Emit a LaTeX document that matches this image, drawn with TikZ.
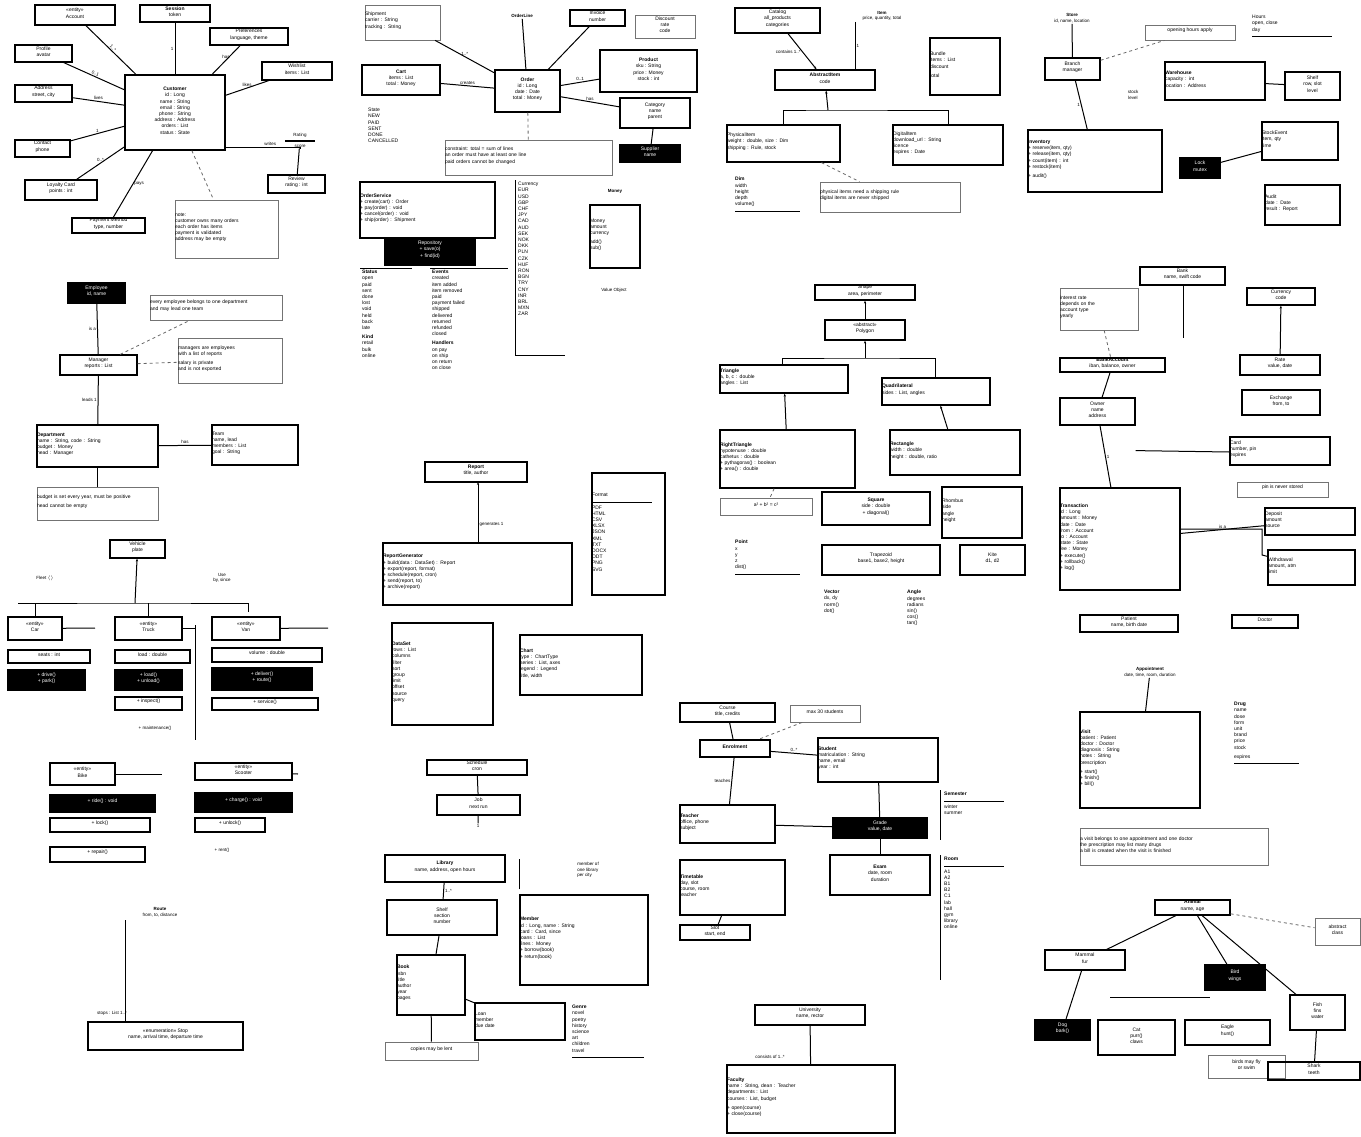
\documentclass[tikz,border=0pt]{standalone}
\usepackage{fontspec}
\setmainfont{Liberation Sans}
\usetikzlibrary{positioning,fit,calc,arrows.meta}

\begin{document}
\begin{tikzpicture}[
    x=1pt, y=-1pt,
    cls/.style={rectangle, draw, line width=1.2pt, inner sep=0pt, font=\fontsize{5}{6.2}\selectfont, align=center},
    note/.style={cls, draw=black!55, line width=0.8pt},
    blk/.style={cls, fill=black, text=white},
    lst/.style={rectangle, inner sep=0pt, anchor=north west, font=\fontsize{5}{6.2}\selectfont, align=left},
    lbl/.style={font=\fontsize{4.5}{5.5}\selectfont, inner sep=1pt},
    con/.style={line width=1pt},
    dep/.style={line width=0.8pt, dashed, black!60},
    arr/.style={con, -{Stealth[length=3pt]}}
    ]
    \useasboundingbox (0,0) rectangle (1361,1136);

    % top left
    \node[cls, fit={(125,75) (225,150)}] (a0) {\textbf{Customer}\\id : Long\\name : String\\email : String\\phone : String\\address : Address\\orders : List\\status : State};
    \node[cls, fit={(35,5) (115,25)}] (a1) {«entity»\\Account};
    \node[cls, fit={(140,5) (210,22)}] (a2) {\textbf{Session}\\token};
    \node[cls, fit={(210,28) (288,45)}] (a3) {Preferences\\language, theme};
    \node[cls, fit={(15,45) (72,62)}] (a4) {Profile\\avatar};
    \node[cls, fit={(15,85) (72,102)}] (a5) {Address\\street, city};
    \node[cls, fit={(15,140) (70,157)}] (a6) {Contact\\phone};
    \node[cls, fit={(25,180) (97,200)}] (a7) {Loyalty Card\\points : int};
    \node[cls, fit={(72,218) (145,233)}] (a8) {Payment Method\\type, number};
    \node[note, fit={(175,200) (278,258)}, align=left] (a9) {note:\\customer owns many orders\\each order has items\\payment is validated\\address may be empty};
    \node[cls, fit={(262,62) (332,80)}] (a10) {Wishlist\\items : List};
    \node[cls, fit={(268,175) (325,193)}] (a11) {Review\\rating : int};
    \node[lbl, align=center] (a12) at (300,140) {Rating\\\rule{30pt}{1.2pt}\\score};
    \draw[con] (a0) -- node[lbl, above, sloped] {1..*} (a1);
    \draw[con] (a0) -- node[lbl, left] {1} (a2);
    \draw[con] (a0) -- node[lbl, above] {has} (a3);
    \draw[con] (a0) -- node[lbl, above, sloped] {0..1} (a4);
    \draw[con] (a0) -- node[lbl, above] {lives} (a5);
    \draw[con] (a0) -- node[lbl, above] {1} (a6);
    \draw[con] (a0) -- node[lbl, above] {0..*} (a7);
    \draw[con] (a0) -- node[lbl, right] {pays} (a8);
    \draw[dep] (a0) -- (a9);
    \draw[con] (a0) -- node[lbl, above] {likes} (a10);
    \draw[con] (a0.east) ++(0,35) -| node[lbl, pos=0.3, above] {writes} (a12);
    \draw[con] (a12) -- (a11);

    % top centre
    \node[cls, fit={(495,70) (560,112)}] (b0) {\textbf{Order}\\id : Long\\date : Date\\total : Money};
    \node[note, fit={(365,5) (440,40)}, align=left] (b1) {Shipment\\carrier : String\\tracking : String};
    \node[lbl] (b2) at (522,16) {\textbf{OrderLine}};
    \node[cls, fit={(570,10) (625,26)}] (b3) {Invoice\\number};
    \node[note, fit={(635,15) (695,38)}] (b4) {Discount\\rate\\code};
    \node[cls, fit={(600,50) (697,92)}] (b5) {\textbf{Product}\\sku : String\\price : Money\\stock : int};
    \node[cls, fit={(620,98) (690,128)}] (b6) {Category\\name\\parent};
    \node[blk, fit={(620,145) (680,162)}] (b7) {Supplier\\name};
    \node[cls, fit={(362,65) (440,95)}] (b8) {\textbf{Cart}\\items : List\\total : Money};
    \node[lst] (b9) at (368,108) {State\\NEW\\PAID\\SENT\\DONE\\CANCELLED};
    \node[note, fit={(445,140) (612,175)}, align=left] (b10) {constraint: total = sum of lines\\an order must have at least one line\\paid orders cannot be changed};
    \node[cls, fit={(360,182) (495,238)}, align=left] (b11) {\textbf{OrderService}\\+ create(cart) : Order\\+ pay(order) : void\\+ cancel(order) : void\\+ ship(order) : Shipment};
    \node[blk, fit={(385,238) (475,265)}] (b12) {Repository\\+ save(o)\\+ find(id)};
    \node[lst] (b13) at (518,182) {Currency\\EUR\\USD\\GBP\\CHF\\JPY\\CAD\\AUD\\SEK\\NOK\\DKK\\PLN\\CZK\\HUF\\RON\\BGN\\TRY\\CNY\\INR\\BRL\\MXN\\ZAR};
    \draw[con] (515,180) |- (565,355);
    \node[lbl] (b15) at (615,191) {\textbf{Money}};
    \node[cls, fit={(590,205) (640,268)}, align=left] (b14) {Money\\amount\\currency\\[3pt]add()\\sub()};
    \node[lbl] (b16) at (614,290) {Value Object};
    \node[lst] (b17) at (362,270) {\textbf{Status}\\open\\paid\\sent\\done\\lost\\void\\held\\back\\late\\[3pt]\textbf{Kind}\\retail\\bulk\\online};
    \node[lst] (b18) at (432,270) {\textbf{Events}\\created\\item added\\item removed\\paid\\payment failed\\shipped\\delivered\\returned\\refunded\\closed\\[3pt]\textbf{Handlers}\\on pay\\on ship\\on return\\on close};
    \draw[con] (360,268) -- (412,268);
    \draw[con] (430,268) -- (508,268);
    \draw[con] (b2) -- (b0);
    \draw[con] (b1) -- node[lbl, above] {1..*} (b0);
    \draw[con] (b8) -- node[lbl, above] {creates} (b0);
    \draw[con] (b0) -- node[lbl, above] {0..1} (b5);
    \draw[con] (b0) -- node[lbl, above] {has} (b6);
    \draw[dep] (b0) -- (b10);
    \draw[con] (b0) -- (b3);
    \draw[con] (b6) -- (b7);
    \draw[con] (b11) -- (b12);

    % top right centre
    \node[cls, fit={(735,8) (820,33)}] (c0) {Catalog\\all\_products\\categories};
    \node[lbl, align=center] (c1) at (882,16) {\textbf{Item}\\price, quantity, total};
    \node[cls, fit={(775,70) (875,90)}] (c2) {\textbf{AbstractItem}\\code};
    \node[cls, fit={(930,38) (1000,95)}, align=left] (c3) {Bundle\\items : List\\discount\\[3pt]total};
    \node[cls, fit={(727,125) (840,162)}, align=left] (c4) {PhysicalItem\\weight : double, size : Dim\\shipping : Rule, stock};
    \node[cls, fit={(893,125) (1003,165)}, align=left] (c5) {DigitalItem\\download\_url : String\\licence\\expires : Date};
    \node[lst] (c6) at (735,177) {\textbf{Dim}\\width\\height\\depth\\volume()\\\rule{65pt}{0.8pt}};
    \node[note, fit={(820,182) (960,212)}, align=left] (c7) {physical items need a shipping rule\\digital items are never shipped};
    \draw[arr] (c0) -- node[lbl, left] {contains 1..*} (c2);
    \draw[con] (c1.south -| 855,0) -- node[lbl, right] {1} (855,70);
    \coordinate (ct) at (828,110);
    \draw[arr] (ct) -- (c2);
    \draw[con] (c4.north) |- (ct) -| (c5.north);
    \draw[dep] (c4) -- (c7);

    % top right
    \node[lbl, align=center] (d0) at (1072,18) {\textbf{Store}\\id, name, location};
    \node[cls, fit={(1045,58) (1100,80)}] (d1) {Branch\\manager};
    \node[note, fit={(1145,25) (1235,40)}] (d2) {opening hours apply};
    \node[lst] (d3) at (1252,15) {Hours\\open, close\\day\\\rule{80pt}{0.8pt}};
    \node[cls, fit={(1165,62) (1265,100)}, align=left] (d4) {\textbf{Warehouse}\\capacity : int\\location : Address};
    \node[cls, fit={(1285,72) (1340,100)}] (d5) {Shelf\\row, slot\\level};
    \node[lbl, align=center] (d6) at (1133,95) {stock\\level};
    \node[cls, fit={(1028,130) (1162,192)}, align=left] (d7) {\textbf{Inventory}\\+ reserve(item, qty)\\+ release(item, qty)\\+ count(item) : int\\+ restock(item)\\[3pt]+ audit()};
    \node[blk, fit={(1180,158) (1220,178)}] (d8) {Lock\\mutex};
    \node[cls, fit={(1262,122) (1338,160)}, align=left] (d9) {StockEvent\\item, qty\\time};
    \node[cls, fit={(1265,185) (1340,225)}, align=left] (d10) {Audit\\date : Date\\result : Report};
    \draw[con] (d0) -- (d1);
    \draw[dep] (d1) -- (d2);
    \draw[con] (d1) -- node[lbl, left] {1} (d7);
    \draw[con] (d4) -- (d5);
    \draw[con] (d8) -- (d9);

    % middle left
    \node[blk, fit={(68,283) (125,303)}] (e0) {Employee\\id, name};
    \node[note, fit={(150,295) (282,320)}, align=left] (e1) {every employee belongs to one department\\and may lead one team};
    \node[note, fit={(178,338) (282,383)}, align=left] (e2) {managers are employees\\with a list of reports\\[3pt]salary is private\\and is not exported};
    \node[cls, fit={(60,355) (137,375)}] (e3) {Manager\\reports : List};
    \node[cls, fit={(37,425) (158,467)}, align=left] (e4) {\textbf{Department}\\name : String, code : String\\budget : Money\\head : Manager};
    \node[cls, fit={(212,425) (298,465)}, align=left] (e5) {Team\\name, lead\\members : List\\goal : String};
    \node[note, fit={(37,487) (158,520)}, align=left] (e6) {budget is set every year, must be positive\\[3pt]head cannot be empty};
    \draw[con] (e0) -- node[lbl, left] {is a} (e3);
    \draw[dep] (e3) -- (e1);
    \draw[dep] (e3) -- (e2);
    \draw[con] (e3) -- node[lbl, left] {leads 1} (e4);
    \draw[con] (e4) -- node[lbl, above] {has} (e5);
    \draw[con] (e4) -- (e6);

    % left
    \node[cls, fit={(110,540) (165,558)}] (f0) {Vehicle\\plate};
    \node[lbl] (f0a) at (45,578) {Fleet $\langle\rangle$};
    \node[lbl, align=center] (f0b) at (222,578) {Use\\by, since};
    \coordinate (ft) at (135,603);
    \draw[arr] (ft) -- (f0);
    \draw[con] (18,603) -- (ft) -- (248,603) -- (248,612);
    \node[cls, fit={(8,617) (62,640)}] (f1) {«entity»\\Car};
    \node[cls, fit={(115,617) (182,640)}] (f2) {«entity»\\Truck};
    \node[cls, fit={(212,617) (280,640)}] (f3) {«entity»\\Van};
    \node[cls, fit={(8,650) (90,663)}] (f4) {seats : int};
    \node[cls, fit={(115,650) (190,663)}] (f5) {load : double};
    \node[cls, fit={(212,648) (322,662)}] (f6) {volume : double};
    \node[blk, fit={(8,670) (85,690)}] (f7) {+ drive()\\+ park()};
    \node[blk, fit={(115,670) (182,690)}] (f8) {+ load()\\+ unload()};
    \node[blk, fit={(212,668) (312,690)}] (f9) {+ deliver()\\+ route()};
    \node[cls, fit={(115,697) (182,710)}] (f10) {+ inspect()};
    \node[cls, fit={(212,698) (318,710)}] (f11) {+ service()};
    \node[lbl] (f12) at (155,728) {+ maintenance()};
    \draw[con] (f2.north) -- (f2.north |- ft);
    \draw[con] (f1.north) -- (f1.north |- ft);
    \draw[con] (f1) -- (95,628);
    \draw[con] (f2.east) -- (f2.east -| 195,0);
    \draw[con] (195,625) -- (195,740);
    \draw[con] (f3) -- (328,628);
    \node[cls, fit={(50,763) (115,785)}] (f13) {«entity»\\Bike};
    \node[cls, fit={(195,763) (292,780)}] (f14) {«entity»\\Scooter};
    \node[blk, fit={(50,795) (155,812)}] (f15) {+ ride() : void};
    \node[blk, fit={(195,793) (292,812)}] (f16) {+ charge() : void};
    \node[cls, fit={(50,818) (150,832)}] (f17) {+ lock()};
    \node[cls, fit={(195,818) (265,832)}] (f18) {+ unlock()};
    \node[cls, fit={(50,847) (145,862)}] (f19) {+ repair()};
    \node[lbl] (f20) at (222,850) {+ rent()};
    \draw[con] (f13) -- (162,774);
    \draw[con] (f14) -- (298,774);

    % bottom left
    \node[lbl, align=center] (g0) at (160,912) {\textbf{Route}\\from, to, distance};
    \node[cls, fit={(88,1022) (243,1050)}] (g1) {«enumeration» Stop\\name, arrival time, departure time};
    \node[lbl] (g2) at (112,1013) {stops : List 1..*};
    \draw[con] (125,920) -- (125,1022);

    % middle centre
    \node[cls, fit={(425,462) (527,482)}] (h0) {\textbf{Report}\\title, author};
    \node[cls, fit={(383,543) (572,605)}, align=left] (h1) {\textbf{ReportGenerator}\\+ build(data : DataSet) : Report\\+ export(report, format)\\+ schedule(report, cron)\\+ send(report, to)\\+ archive(report)};
    \node[cls, fit={(592,473) (665,595)}, align=left] (h2) {Format\\\rule{60pt}{0.8pt}\\PDF\\HTML\\CSV\\XLSX\\JSON\\XML\\TXT\\DOCX\\ODT\\PNG\\SVG};
    \node[cls, fit={(392,623) (493,725)}, align=left] (h3) {\textbf{DataSet}\\rows : List\\columns\\filter\\sort\\group\\limit\\offset\\source\\query};
    \node[cls, fit={(520,635) (642,695)}, align=left] (h4) {\textbf{Chart}\\type : ChartType\\series : List, axes\\legend : Legend\\title, width};
    \draw[arr] (h1.north -| 478,0) -- node[lbl, right, pos=0.3] {generates 1} (478,482);
    \node[cls, fit={(427,760) (527,775)}] (h5) {Schedule\\cron};
    \node[cls, fit={(437,795) (520,815)}] (h6) {Job\\next run};
    \node[lbl] (h7) at (478,826) {1};
    \draw[con] (h5) -- (h6);
    \draw[con] (h6) -- (h7);

    % bottom middle
    \node[cls, fit={(385,855) (505,882)}] (i0) {\textbf{Library}\\name, address, open hours};
    \node[cls, fit={(387,900) (497,935)}] (i1) {Shelf\\section\\number};
    \node[cls, fit={(397,955) (465,1015)}, align=left] (i2) {\textbf{Book}\\isbn\\title\\author\\year\\pages};
    \node[note, fit={(385,1042) (478,1060)}] (i3) {copies may be lent};
    \node[cls, fit={(475,1003) (565,1040)}, align=left] (i4) {Loan\\member\\due date};
    \node[lst] (i5) at (572,1005) {\textbf{Genre}\\novel\\poetry\\history\\science\\art\\children\\travel\\\rule{72pt}{1.2pt}};
    \node[cls, fit={(520,895) (648,985)}, align=left] (i6) {\textbf{Member}\\id : Long, name : String\\card : Card, since\\loans : List\\fines : Money\\+ borrow(book)\\+ return(book)};
    \node[lbl, align=left] (i7) at (588,870) {member of\\one library\\per city};
    \draw[con] (i0) -- node[lbl, right] {1..*} (i1);
    \draw[con] (i1) -- (i2);
    \draw[con] (i2) -- (i3);
    \draw[con] (i2) -- (i4);
    \draw[con] (i6.north west) ++(0,-5) -- ++(0,-30);

    % centre right
    \node[cls, fit={(815,285) (915,300)}] (j0) {Shape\\area, perimeter};
    \node[cls, fit={(825,320) (905,340)}] (j1) {«abstract»\\Polygon};
    \node[cls, fit={(720,365) (848,393)}, align=left] (j2) {\textbf{Triangle}\\a, b, c : double\\angles : List};
    \node[cls, fit={(882,378) (990,405)}, align=left] (j3) {\textbf{Quadrilateral}\\sides : List, angles};
    \node[cls, fit={(720,430) (855,488)}, align=left] (j4) {\textbf{RightTriangle}\\hypotenuse : double\\cathetus : double\\+ pythagoras() : boolean\\+ area() : double};
    \node[cls, fit={(890,430) (1020,475)}, align=left] (j5) {\textbf{Rectangle}\\width : double\\height : double, ratio};
    \node[note, fit={(720,498) (812,515)}] (j6) {a² + b² = c²};
    \node[cls, fit={(822,492) (930,525)}] (j7) {\textbf{Square}\\side : double\\+ diagonal()};
    \node[cls, fit={(942,487) (1022,538)}, align=left] (j8) {Rhombus\\side\\angle\\height};
    \node[cls, fit={(822,545) (940,575)}] (j9) {Trapezoid\\base1, base2, height};
    \node[cls, fit={(960,545) (1025,575)}] (j10) {Kite\\d1, d2};
    \node[lst] (j11) at (735,540) {\textbf{Point}\\x\\y\\z\\dist()\\\rule{65pt}{1.2pt}};
    \node[lst] (j12) at (824,590) {\textbf{Vector}\\dx, dy\\norm()\\dot()};
    \node[lst] (j13) at (907,590) {\textbf{Angle}\\degrees\\radians\\sin()\\cos()\\tan()};
    \draw[arr] (j1) -- (j0);
    \coordinate (jt) at (865,358);
    \draw[arr] (jt) -- (j1);
    \draw[con] (j2.north -| 782,0) |- (jt) -| (j3.north -| 935,0);
    \draw[arr] (j4) -- (j2);
    \draw[arr] (j5) -- (j3);
    \draw[dep] (j4) -- (j6);

    % right middle
    \node[cls, fit={(1140,267) (1225,285)}] (k0) {Bank\\name, swift code};
    \node[note, fit={(1060,288) (1138,330)}, align=left] (k1) {interest rate\\depends on the\\account type\\yearly};
    \node[cls, fit={(1247,288) (1315,305)}] (k2) {Currency\\code};
    \node[cls, fit={(1240,355) (1320,375)}] (k3) {Rate\\value, date};
    \node[cls, fit={(1060,358) (1165,372)}] (k4) {\textbf{BankAccount}\\iban, balance, owner};
    \node[cls, fit={(1060,398) (1135,425)}] (k5) {Owner\\name\\address};
    \node[cls, fit={(1242,390) (1320,415)}] (k6) {Exchange\\from, to};
    \node[cls, fit={(1230,437) (1330,465)}, align=left] (k7) {Card\\number, pin\\expires};
    \node[note, fit={(1237,482) (1328,497)}] (k8) {pin is never stored};
    \node[cls, fit={(1060,488) (1180,590)}, align=left] (k9) {\textbf{Transaction}\\id : Long\\amount : Money\\date : Date\\from : Account\\to : Account\\state : State\\fee : Money\\+ execute()\\+ rollback()\\+ log()};
    \node[cls, fit={(1265,508) (1355,535)}, align=left] (k10) {Deposit\\amount\\source};
    \node[cls, fit={(1268,550) (1355,585)}, align=left] (k11) {Withdrawal\\amount, atm\\limit};
    \draw[con] (k0.south -| 1183,0) -- (1183,338);
    \draw[dep] (k1) -- (k4);
    \draw[arr] (k3) -- (k2);
    \draw[con] (k4) -- (k5);
    \draw[con] (k5) -- node[lbl, right] {1} (k9);
    \draw[con] (k5.south east) ++(0,25) -- (k7.west |- 0,452);
    \draw[con] (k9) -- node[lbl, above] {is a} (k10);
    \draw[con] (k9.east) ++(0,-10) -| (1262,555) -- (k11);

    % right lower
    \node[cls, fit={(1080,615) (1178,632)}] (l0) {Patient\\name, birth date};
    \node[cls, fit={(1232,615) (1298,628)}] (l1) {Doctor};
    \node[lbl, align=center] (l2) at (1150,672) {\textbf{Appointment}\\date, time, room, duration};
    \node[cls, fit={(1080,712) (1200,808)}, align=left] (l3) {\textbf{Visit}\\patient : Patient\\doctor : Doctor\\diagnosis : String\\notes : String\\prescription\\[3pt]+ start()\\+ finish()\\+ bill()};
    \node[lst] (l4) at (1234,702) {\textbf{Drug}\\name\\dose\\form\\unit\\brand\\price\\stock\\[3pt]expires\\\rule{65pt}{1.2pt}};
    \node[note, fit={(1080,828) (1268,865)}, align=left] (l5) {a visit belongs to one appointment and one doctor\\the prescription may list many drugs\\a bill is created when the visit is finished};
    \draw[con] (l2) -- (l3);

    % centre lower
    \node[cls, fit={(680,703) (775,722)}] (m0) {Course\\title, credits};
    \node[note, fit={(790,705) (860,722)}] (m1) {max 30 students};
    \node[cls, fit={(700,740) (770,757)}] (m2) {\textbf{Enrolment}};
    \node[cls, fit={(818,738) (938,782)}, align=left] (m3) {\textbf{Student}\\matriculation : String\\name, email\\year : int};
    \node[cls, fit={(680,805) (775,843)}, align=left] (m4) {\textbf{Teacher}\\office, phone\\subject};
    \node[blk, fit={(833,818) (927,838)}] (m5) {Grade\\value, date};
    \node[lst] (m6) at (944,792) {\textbf{Semester}\\\rule{60pt}{1.2pt}\\winter\\summer};
    \node[cls, fit={(830,855) (930,895)}] (m7) {\textbf{Exam}\\date, room\\duration};
    \node[lst] (m8) at (944,857) {\textbf{Room}\\\rule{60pt}{1.2pt}\\A1\\A2\\B1\\B2\\C1\\lab\\hall\\gym\\library\\online};
    \draw[con] (940,790) -- (940,840);
    \draw[con] (940,855) -- (940,980);
    \node[cls, fit={(680,860) (785,915)}, align=left] (m9) {\textbf{Timetable}\\day, slot\\course, room\\teacher};
    \node[cls, fit={(680,925) (750,940)}] (m10) {Slot\\start, end};
    \node[cls, fit={(755,1005) (865,1025)}] (m11) {University\\name, rector};
    \node[cls, fit={(727,1065) (895,1133)}, align=left] (m12) {\textbf{Faculty}\\name : String, dean : Teacher\\departments : List\\courses : List, budget\\[3pt]+ open(course)\\+ close(course)};
    \node[lbl] (m13) at (770,1057) {consists of 1..*};
    \draw[con] (m0) -- (m2);
    \draw[dep] (m1) -- (m2);
    \draw[con] (m2) -- node[lbl, above] {0..*} (m3);
    \draw[con] (m2) -- node[lbl, left] {teaches} (m4);
    \draw[con] (m4) -- (m5);
    \draw[con] (m3) -- (m5);
    \draw[con] (m5) -- (m7);
    \draw[con] (m9) -- (m10);
    \draw[con] (m11) -- (m12);

    % bottom right
    \node[cls, fit={(1155,900) (1230,915)}] (n0) {\textbf{Animal}\\name, age};
    \node[cls, fit={(1045,950) (1125,970)}] (n1) {Mammal\\fur};
    \node[blk, fit={(1205,965) (1265,990)}] (n2) {Bird\\wings};
    \node[note, fit={(1315,918) (1360,945)}] (n3) {abstract\\class};
    \node[cls, fit={(1290,995) (1345,1030)}] (n4) {Fish\\fins\\water};
    \node[blk, fit={(1035,1020) (1090,1040)}] (n5) {Dog\\bark()};
    \node[cls, fit={(1098,1020) (1175,1055)}] (n6) {Cat\\purr()\\claws};
    \node[cls, fit={(1185,1020) (1270,1045)}] (n7) {Eagle\\hunt()};
    \node[note, fit={(1208,1055) (1285,1078)}] (n8) {birds may fly\\or swim};
    \node[cls, fit={(1268,1062) (1360,1080)}] (n9) {Shark\\teeth};
    \draw[con] (n0) -- (n1);
    \draw[con] (n0) -- (n2);
    \draw[con] (n0) -- (n4);
    \draw[dep] (n0) -- (n3);
    \draw[con] (n1) -- (n5);
    \draw[con] (1110,997) -- (1210,997);
    \draw[con] (n4) -- (n9);
\end{tikzpicture}
\end{document}
